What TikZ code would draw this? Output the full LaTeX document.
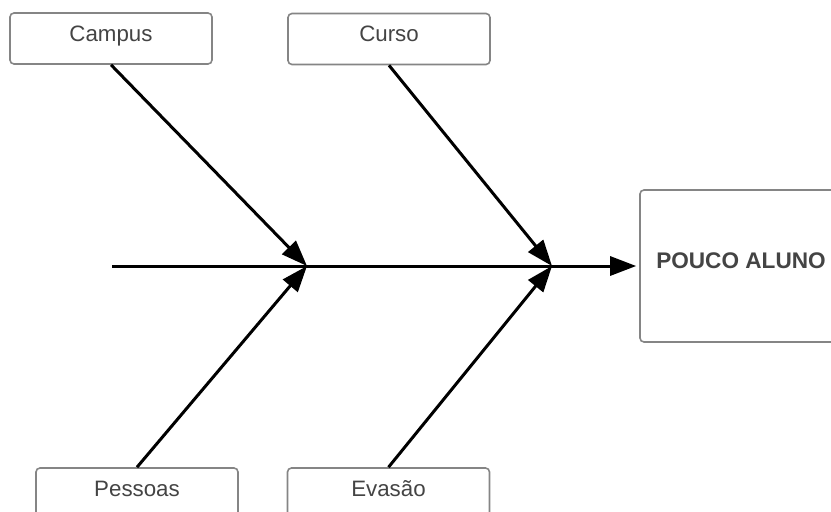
\documentclass[tikz,border=0pt]{standalone}
\usepackage{fontspec}
\setmainfont{Liberation Sans}
\usetikzlibrary{arrows.meta}
\definecolor{boxline}{HTML}{858585}
\definecolor{boxtext}{HTML}{444444}
\begin{document}
\begin{tikzpicture}[x=1pt,y=-1pt,
  cause/.style={draw=boxline, line width=1.6pt, rounded corners=4pt, fill=white,
    minimum width=202pt, minimum height=51pt, inner sep=0pt,
    text=boxtext, font=\fontsize{22.3}{25}\selectfont,
    text height=0.72em, text depth=0.2em},
  effect/.style={cause, minimum height=152pt,
    font=\fontsize{22.6}{25}\selectfont\bfseries},
  bone/.style={line width=3pt, draw=black},
  head/.style={-{Triangle[length=26pt,width=19pt]}}]
\useasboundingbox (0,0) rectangle (831,512);
\begin{scope}
\clip (0,0) rectangle (831,512);
% cause boxes
\node[cause] (campus)  at (111,38.5)  {Campus};
\node[cause] (curso)   at (389,39)    {Curso};
\node[cause] (pessoas) at (137,493.5) {Pessoas};
\node[cause] (evasao)  at (388.5,493.5) {Evasão};
% effect box
\node[effect] (efeito) at (741,266) {POUCO ALUNO};
\end{scope}
% spine and junctions
\coordinate (tail) at (112,266);
\coordinate (j1) at (307,266);
\coordinate (j2) at (552,266);
\draw[bone, head, shorten >=3pt] (tail) -- (j1) -- (j2) -- (efeito.west);
% bones
\draw[bone, head] (campus.south)  -- (j1);
\draw[bone, head] (pessoas.north) -- (j1);
\draw[bone, head] (curso.south)   -- (j2);
\draw[bone, head] (evasao.north)  -- (j2);
\end{tikzpicture}
\end{document}
